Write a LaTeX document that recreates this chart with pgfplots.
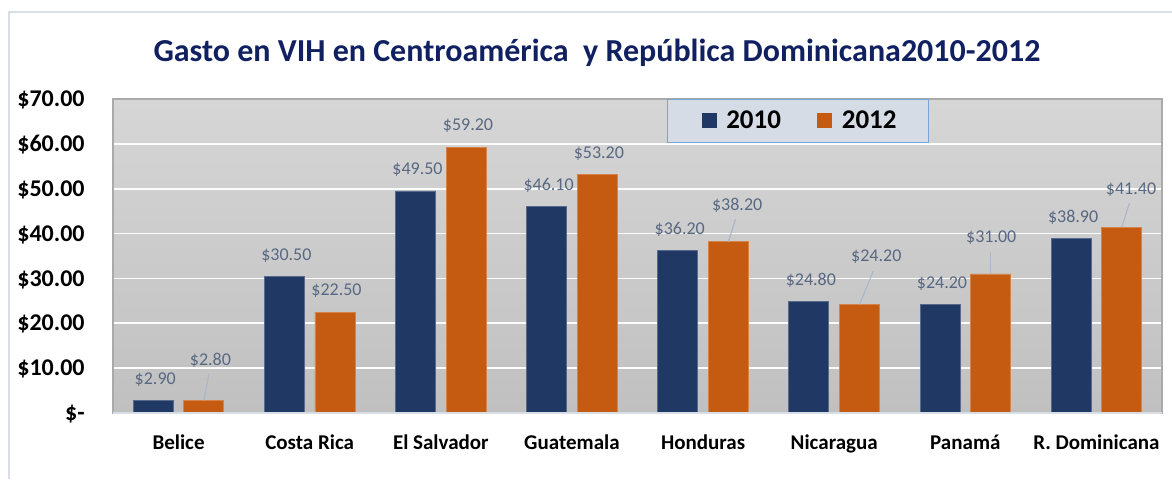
\documentclass[border=0pt]{standalone}
\usepackage{fontspec}
\setmainfont{Carlito}
\usepackage{pgfplots}
\usepackage{pgfplotstable}
\pgfplotsset{compat=1.18}
\definecolor{navy}{RGB}{31,56,100}
\definecolor{naranja}{RGB}{197,90,17}
\definecolor{titulo}{RGB}{16,32,96}
\definecolor{etiq}{RGB}{89,104,130}
\definecolor{guia}{RGB}{168,184,206}
\definecolor{marco}{RGB}{217,222,230}
\definecolor{borde}{RGB}{170,170,170}
\definecolor{leyfondo}{RGB}{214,220,229}
\definecolor{leyborde}{RGB}{120,165,215}
\definecolor{fondoarriba}{RGB}{214,214,214}
\definecolor{fondoabajo}{RGB}{192,192,192}

% dx dy: desplazamiento de la etiqueta (pt); sx sy: inicio de la linea guia
% respecto a la base de la etiqueta (sin guia: sx=-dx, sy=-dy)
\pgfplotstableread{
x y dx dy sx sy
0 2.9  1 8 -1 -8
1 30.5 1 8 -1 -8
2 49.5 1 8 -1 -8
3 46.1 1 8 -1 -8
4 36.2 1 8 -1 -8
5 24.8 1 8 -1 -8
6 24.2 1 8 -1 -8
7 38.9 1 8 -1 -8
}\datosdiez
\pgfplotstableread{
x y dx dy sx sy
0 2.8  3.3  17.7 -0.8 -4.5
1 22.5 0.75 8.2  -0.75 -8.2
2 59.2 0.95 8.35 -0.95 -8.35
3 53.2 0.8  8.15 -0.8 -8.15
4 38.2 4.4  15.8 -0.8 -4.5
5 24.2 8.4  21.5 -1.5 -4.8
6 31.0 0.3  15.5 -0.3 -4.5
7 41.4 4.65 16.6 -0.8 -4.5
}\datosdoce

\begin{document}
\begin{tikzpicture}
\useasboundingbox (0,0) rectangle (586pt,239.5pt);
\draw[color=marco, line width=0.8pt] (4.5pt,0) -- (4.5pt,233.5pt) -- (586pt,233.5pt);
\begin{axis}[
    at={(56.5pt,33pt)}, anchor=south west,
    scale only axis, width=524.5pt, height=157pt,
    xmin=-0.5, xmax=7.5, ymin=0, ymax=70,
    ybar=5.3pt, bar width=20pt,
    clip=false,
    /pgf/number format/assume math mode=true,
    xtick={0,...,7},
    xticklabels={Belice,Costa Rica,El Salvador,Guatemala,Honduras,Nicaragua,Panamá,R. Dominicana},
    ytick={0,10,...,70},
    yticklabels={\$-\hspace{5.5pt},\$10.00,\$20.00,\$30.00,\$40.00,\$50.00,\$60.00,\$70.00},
    major tick length=0pt,
    xticklabel style={anchor=base, inner sep=0pt, yshift=-18pt, font=\bfseries\fontsize{10.5}{12}\selectfont},
    yticklabel style={anchor=base east, inner sep=0pt, xshift=-14pt, yshift=-3.8pt, font=\bfseries\fontsize{12}{14}\selectfont},
    axis line style={draw=borde, line width=0.6pt},
    ymajorgrids,
    grid style={color=white!92!marco, line width=0.8pt},
    axis background/.style={shade, top color=fondoarriba, bottom color=fondoabajo},
    legend style={at={(0.528,1)}, anchor=north west, fill=leyfondo, draw=leyborde,
        line width=0.6pt, font=\bfseries\fontsize{13.5}{15}\selectfont,
        legend columns=2, inner xsep=14pt, inner ysep=3.5pt,
        /tikz/every even column/.append style={column sep=13pt}},
    legend image code/.code={\path (-3pt,0) (10pt,0);
        \fill[#1,draw=none] (0pt,-3.75pt) rectangle (7.5pt,3.75pt);},
    nodes near coords={\$\pgfmathprintnumber[fixed,fixed zerofill,precision=2]{\pgfplotspointmeta}},
    visualization depends on={\thisrow{dx}\as\ldx},
    visualization depends on={\thisrow{dy}\as\ldy},
    visualization depends on={\thisrow{sx}\as\lsx},
    visualization depends on={\thisrow{sy}\as\lsy},
    every node near coord/.append style={anchor=base, inner sep=0pt,
        xshift=\ldx pt, yshift=\ldy pt,
        font=\fontsize{9}{10}\selectfont, text=etiq,
        append after command={([xshift=\lsx pt,yshift=\lsy pt]\tikzlastnode.base)
            edge[draw=guia, line width=0.5pt]
            ([xshift=-\ldx pt,yshift=-\ldy pt]\tikzlastnode.base)}},
]
\addplot[fill=navy, draw=navy!75!white, line width=0.4pt] table[x=x, y=y] {\datosdiez};
\addplot[fill=naranja, draw=naranja!75!white, line width=0.4pt] table[x=x, y=y] {\datosdoce};
\legend{2010,2012}
\draw[color=marco, line width=1pt] (rel axis cs:0,0) -- (rel axis cs:1,0);
\end{axis}
\node[font=\bfseries\fontsize{16}{18}\selectfont, text=titulo] at (298.5pt,213pt)
    {Gasto en VIH en Centroamérica~ y República Dominicana2010-2012};
\end{tikzpicture}
\end{document}
